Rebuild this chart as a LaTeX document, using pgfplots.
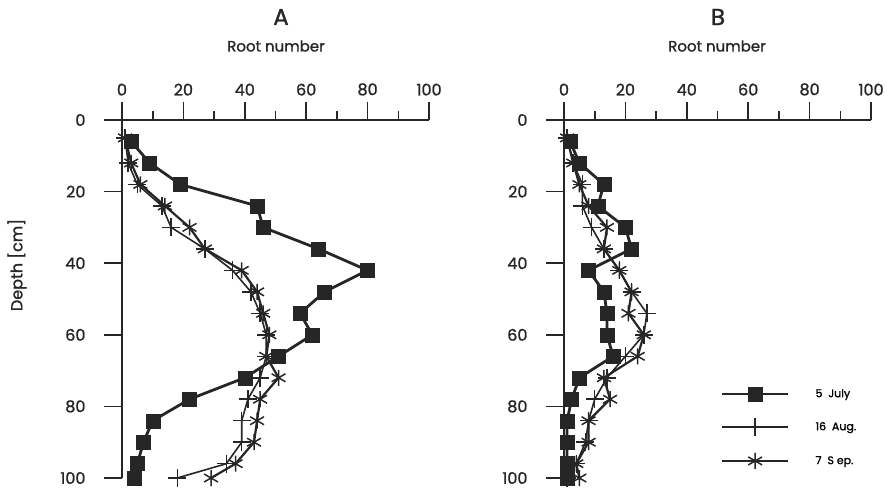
\documentclass[border=0pt]{standalone}
\usepackage{fontspec}
\setmainfont{Poppins}[FakeBold=1.5]
\newfontfamily\medfont{Poppins}[FakeBold=1.2]
\usepackage{pgfplots}
\pgfplotsset{compat=1.18}
\definecolor{ink}{HTML}{262626}
\begin{document}
\begin{tikzpicture}[x=1pt,y=1pt]
\useasboundingbox (0,0) rectangle (890,489);
\pgfplotsset{
 panel/.style={
  scale only axis, width=307pt, height=358pt,
  xmin=0,xmax=100,ymin=0,ymax=100, y dir=reverse,
  axis x line=top, axis y line=left,
  axis line style={-, line width=2pt, ink},
  xtick={0,20,...,100}, ytick={0,20,...,100},
  minor xtick={10,30,...,90},
  tick align=outside, major tick length=18pt, minor tick length=9pt,
  every tick/.style={ink, line width=1.6pt},
  tick label style={font=\medfont\fontsize{16}{16}\selectfont, text=ink},
  yticklabel style={anchor=east, xshift=-15pt},
  xticklabel style={yshift=3pt},
  /pgf/number format/assume math mode=true,
  clip=false,
 },
 july/.style={ink, line width=2.8pt, mark=square*, mark size=7pt, mark options={solid, line width=0.4pt, fill=ink}},
 aug/.style={ink, line width=1.6pt, mark=+, mark size=9pt, mark options={solid, line width=1.5pt}},
 sep/.style={ink, line width=2.2pt, mark=asterisk, mark size=8pt, mark options={solid, line width=1.5pt}},
}
% Panel A
\begin{axis}[panel, at={(122pt,11pt)}, anchor=south west]
\addplot[july] coordinates {(3,6)(9,12)(19,18)(44,24)(46,30)(64,36)(80,42)(66,48)(58,54)(62,60)(51,66)(40,72)(22,78)(10,84)(7,90)(5,96)(4,100)};
\addplot[aug] coordinates {(1,5)(2,12)(5,18)(13,24)(16,30)(27,36)(36,42)(42,48)(45,54)(47,60)(47,66)(45,72)(41,78)(39,84)(39,90)(34,96)(18,100)};
\addplot[sep] coordinates {(1,5)(3,12)(6,18)(14,24)(22,30)(27,36)(39,42)(44,48)(46,54)(48,60)(47,66)(51,72)(45,78)(44,84)(43,90)(37,96)(29,100)};
\end{axis}
% Panel B
\begin{axis}[panel, at={(564pt,11pt)}, anchor=south west,
  legend cell align=left,
  legend style={draw=none, fill=none, at={(axis cs:51,74.5)}, anchor=north west, inner sep=0pt,
    font=\medfont\fontsize{11}{11}\selectfont, row sep=17pt, /tikz/every odd column/.append style={column sep=0pt}},
  legend image code/.code={\draw[mark repeat=2,mark phase=2,#1] plot coordinates {(0pt,0pt)(33pt,0pt)(66pt,0pt)};},
]
\addplot[july] coordinates {(2,6)(5,12)(13,18)(11,24)(20,30)(22,36)(8,42)(13,48)(14,54)(14,60)(16,66)(5,72)(2.5,78)(1,84)(1,90)(1,96)(1,100)};
\addplot[aug] coordinates {(1,5)(3,12)(6,18)(6,24)(9,30)(13,36)(18,42)(22,48)(27,54)(26,60)(20,66)(14,72)(10,78)(8,84)(7,90)(4,96)(1,100)};
\addplot[sep] coordinates {(1,5)(3,12)(5,18)(8,24)(14,30)(13,36)(18,42)(22,48)(21,54)(26,60)(24,66)(13,72)(15,78)(8,84)(8,90)(4,96)(5,100)};
\legend{\hspace{24pt}5\ \ July, \hspace{24pt}16\ \ Aug., \hspace{24pt}7\ \ S ep.}
\end{axis}
\node[font=\medfont\fontsize{23}{23}\selectfont, text=ink] at (281,472) {A};
\node[font=\medfont\fontsize{15}{15}\selectfont, text=ink] at (276,443) {Root number};
\node[font=\medfont\fontsize{23}{23}\selectfont, text=ink] at (718,472) {B};
\node[font=\medfont\fontsize{15}{15}\selectfont, text=ink] at (717,443) {Root number};
\node[font=\medfont\fontsize{16}{16}\selectfont, text=ink, rotate=90] at (17,224) {Depth [cm]};
\end{tikzpicture}
\end{document}
